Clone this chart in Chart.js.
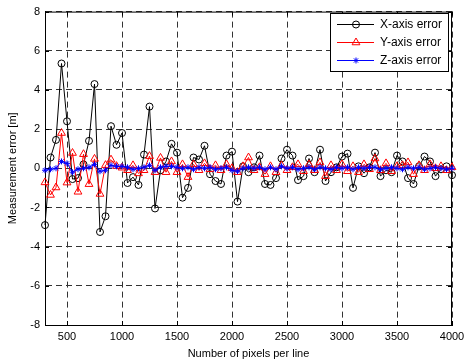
<!DOCTYPE html>
<html lang="en">
<head>
    <meta charset="UTF-8">
    <title>Measurement error vs pixels per line</title>
    <script src="https://cdn.jsdelivr.net/npm/chart.js"></script>
    <style>
        html, body { margin: 0; padding: 0; background: #fff; }
        canvas { display: block; }
    </style>
</head>
<body>
    <canvas id="errChart" width="471" height="362"></canvas>

    <script>
        // Pixels per line: 300, 350, ... 4000
        const pixels = [
            300, 350, 400, 450, 500, 550, 600, 650, 700, 750,
            800, 850, 900, 950, 1000, 1050, 1100, 1150, 1200, 1250,
            1300, 1350, 1400, 1450, 1500, 1550, 1600, 1650, 1700, 1750,
            1800, 1850, 1900, 1950, 2000, 2050, 2100, 2150, 2200, 2250,
            2300, 2350, 2400, 2450, 2500, 2550, 2600, 2650, 2700, 2750,
            2800, 2850, 2900, 2950, 3000, 3050, 3100, 3150, 3200, 3250,
            3300, 3350, 3400, 3450, 3500, 3550, 3600, 3650, 3700, 3750,
            3800, 3850, 3900, 3950, 4000
        ];

        const xError = [
            -2.9, 0.55, 1.45, 5.35, 2.4, -0.55, -0.5, 0.2, 1.4, 4.3,
            -3.25, -2.45, 2.15, 1.2, 1.8, -0.75, -0.45, -0.85, 0.7, 3.15,
            -2.05, -0.1, 0.35, 1.25, 0.8, -1.5, -1.0, 0.55, 0.45, 1.15,
            -0.3, -0.65, -0.8, 0.65, 0.85, -1.7, 0.1, -0.2, 0.05, 0.65,
            -0.8, -0.85, -0.5, 0.5, 0.95, 0.65, -0.6, -0.4, 0.5, -0.2,
            0.95, -0.65, -0.2, 0.05, 0.6, 0.75, -1.0, 0.1, -0.25, 0.05,
            0.8, -0.4, -0.1, -0.2, 0.65, 0.35, -0.5, -0.8, 0.1, 0.6,
            0.35, -0.4, -0.05, 0.1, -0.35
        ];

        const yError = [
            -0.72, -1.36, -0.98, 1.8, -0.73, 0.78, -1.2, 0.72, -0.81, 0.48,
            -1.31, 0.16, 0.44, 0.11, 0.03, -0.1, 0.15, -0.26, -0.1, 0.62,
            -0.2, 0.53, -0.2, 0.35, -0.2, 0.2, -0.45, 0.2, -0.1, 0.25,
            -0.05, 0.15, -0.1, 0.2, 0.0, -0.2, 0.1, 0.55, -0.1, 0.05,
            -0.3, 0.1, -0.2, 0.15, -0.1, 0.05, 0.2, -0.15, 0.2, -0.1,
            0.3, -0.4, 0.15, -0.1, 0.2, -0.15, 0.1, -0.2, 0.2, -0.05,
            0.5, -0.1, 0.25, -0.15, 0.1, 0.15, 0.3, -0.3, 0.15, -0.1,
            0.2, 0.0, 0.1, -0.1, 0.05
        ];

        const zError = [
            -0.1, -0.05, 0.0, 0.35, 0.25, -0.2, -0.05, 0.0, 0.05, 0.2,
            -0.15, -0.1, 0.15, 0.1, 0.1, 0.05, -0.05, 0.0, 0.05, 0.15,
            -0.1, 0.05, 0.1, 0.1, 0.05, 0.0, 0.05, -0.05, 0.05, 0.0,
            0.05, -0.05, 0.0, 0.05, -0.1, -0.15, 0.0, 0.05, 0.0, 0.05,
            -0.05, 0.05, -0.05, 0.1, 0.0, 0.05, -0.05, 0.0, 0.05, -0.05,
            0.05, 0.0, -0.05, 0.05, 0.0, 0.05, -0.05, 0.05, 0.0, 0.05,
            0.05, -0.05, 0.0, 0.05, 0.0, -0.05, 0.05, 0.0, 0.05, -0.05,
            0.0, 0.05, 0.0, -0.05, 0.0
        ];

        const xTicks = [500, 1000, 1500, 2000, 2500, 3000, 3500, 4000];
        const yTicks = [-8, -6, -4, -2, 0, 2, 4, 6, 8];

        const seriesNames = ['X-axis error', 'Y-axis error', 'Z-axis error'];

        const font = "'Liberation Sans', Arial, Helvetica, sans-serif";

        function toPoints(values) {
            return pixels.map((p, i) => ({ x: p, y: values[i] }));
        }

        // Solid box round the axes plus small inward ticks, matlab style
        const boxPlugin = {
            id: 'box',
            beforeDatasetsDraw(chart) {
                const { ctx, chartArea: a, scales } = chart;
                ctx.save();
                ctx.strokeStyle = '#000';
                ctx.lineWidth = 1;
                ctx.setLineDash([]);
                ctx.strokeRect(a.left + 0.5, a.top + 0.5, a.right - a.left - 1, a.bottom - a.top);
                ctx.beginPath();
                xTicks.forEach(v => {
                    const px = Math.round(scales.x.getPixelForValue(v)) + 0.5;
                    ctx.moveTo(px, a.bottom); ctx.lineTo(px, a.bottom - 4);
                    ctx.moveTo(px, a.top); ctx.lineTo(px, a.top + 4);
                });
                yTicks.forEach(v => {
                    const py = Math.round(scales.y.getPixelForValue(v)) + 0.5;
                    ctx.moveTo(a.left, py); ctx.lineTo(a.left + 4, py);
                    ctx.moveTo(a.right, py); ctx.lineTo(a.right - 4, py);
                });
                ctx.stroke();
                ctx.restore();
            }
        };

        // Legend box in the top right corner of the axes
        const legendPlugin = {
            id: 'boxLegend',
            afterDraw(chart) {
                const ctx = chart.ctx;
                const bx = 330, by = 13, bw = 118, bh = 58;
                ctx.save();
                ctx.fillStyle = '#fff';
                ctx.fillRect(bx, by, bw, bh);
                ctx.strokeStyle = '#000';
                ctx.lineWidth = 1;
                ctx.strokeRect(bx + 0.5, by + 0.5, bw, bh);
                const rows = [24, 42, 60];
                chart.data.datasets.forEach((ds, i) => {
                    const y = rows[i];
                    ctx.strokeStyle = ds.borderColor;
                    ctx.fillStyle = 'rgba(0,0,0,0)';
                    ctx.lineWidth = 1;
                    ctx.beginPath();
                    ctx.moveTo(337, y + 0.5);
                    ctx.lineTo(374, y + 0.5);
                    ctx.stroke();
                    Chart.helpers.drawPoint(ctx, {
                        pointStyle: ds.pointStyle,
                        radius: ds.pointRadius,
                        borderWidth: 1
                    }, 356, y + 0.5);
                    ctx.fillStyle = '#000';
                    ctx.font = '12px ' + font;
                    ctx.textBaseline = 'middle';
                    ctx.textAlign = 'left';
                    ctx.fillText(seriesNames[i], 380, y + 1);
                });
                ctx.restore();
            }
        };

        new Chart(document.getElementById('errChart'), {
            type: 'line',
            data: {
                datasets: [
                    {
                        label: seriesNames[0],
                        data: toPoints(xError),
                        borderColor: '#000000',
                        backgroundColor: 'rgba(0,0,0,0)',
                        borderWidth: 1,
                        pointStyle: 'circle',
                        pointRadius: 3.5,
                        pointBorderWidth: 1,
                        pointBorderColor: '#000000',
                        pointBackgroundColor: 'rgba(0,0,0,0)',
                        tension: 0,
                        clip: 6,
                        order: 3
                    },
                    {
                        label: seriesNames[1],
                        data: toPoints(yError),
                        borderColor: '#ff0000',
                        backgroundColor: 'rgba(0,0,0,0)',
                        borderWidth: 1,
                        pointStyle: 'triangle',
                        pointRadius: 4.5,
                        pointBorderWidth: 1,
                        pointBorderColor: '#ff0000',
                        pointBackgroundColor: 'rgba(0,0,0,0)',
                        tension: 0,
                        clip: 6,
                        order: 2
                    },
                    {
                        label: seriesNames[2],
                        data: toPoints(zError),
                        borderColor: '#0000ff',
                        backgroundColor: 'rgba(0,0,0,0)',
                        borderWidth: 1,
                        pointStyle: 'star',
                        pointRadius: 3,
                        pointBorderWidth: 1,
                        pointBorderColor: '#0000ff',
                        pointBackgroundColor: 'rgba(0,0,0,0)',
                        tension: 0,
                        clip: 6,
                        order: 1
                    }
                ]
            },
            options: {
                responsive: false,
                animation: false,
                devicePixelRatio: 1,
                layout: { padding: { top: 6, right: 19, bottom: 0, left: 0 } },
                plugins: {
                    legend: { display: false },
                    tooltip: { enabled: false }
                },
                scales: {
                    x: {
                        type: 'linear',
                        min: 300,
                        max: 4000,
                        afterBuildTicks: s => { s.ticks = xTicks.map(v => ({ value: v })); },
                        afterFit: s => { s.height = 37; },
                        grid: { color: '#333', lineWidth: 1, drawTicks: false },
                        border: { display: true, color: '#000', dash: [6, 4] },
                        ticks: {
                            color: '#000',
                            padding: 5,
                            maxRotation: 0,
                            callback: v => String(v),
                            font: { family: font, size: 11 }
                        },
                        title: {
                            display: true,
                            text: 'Number of pixels per line',
                            color: '#000',
                            padding: { top: 0, bottom: 1 },
                            font: { family: font, size: 11 }
                        }
                    },
                    y: {
                        type: 'linear',
                        min: -8,
                        max: 8,
                        afterBuildTicks: s => { s.ticks = yTicks.map(v => ({ value: v })); },
                        afterFit: s => { s.width = 45; },
                        grid: { color: '#333', lineWidth: 1, drawTicks: false },
                        border: { display: true, color: '#000', dash: [6, 4] },
                        ticks: {
                            color: '#000',
                            padding: 5,
                            callback: v => String(v),
                            font: { family: font, size: 11 }
                        },
                        title: {
                            display: true,
                            text: 'Measurement error [m]',
                            color: '#000',
                            padding: { top: 6, bottom: 0 },
                            font: { family: font, size: 11 }
                        }
                    }
                }
            },
            plugins: [boxPlugin, legendPlugin]
        });
    </script>
</body>
</html>
